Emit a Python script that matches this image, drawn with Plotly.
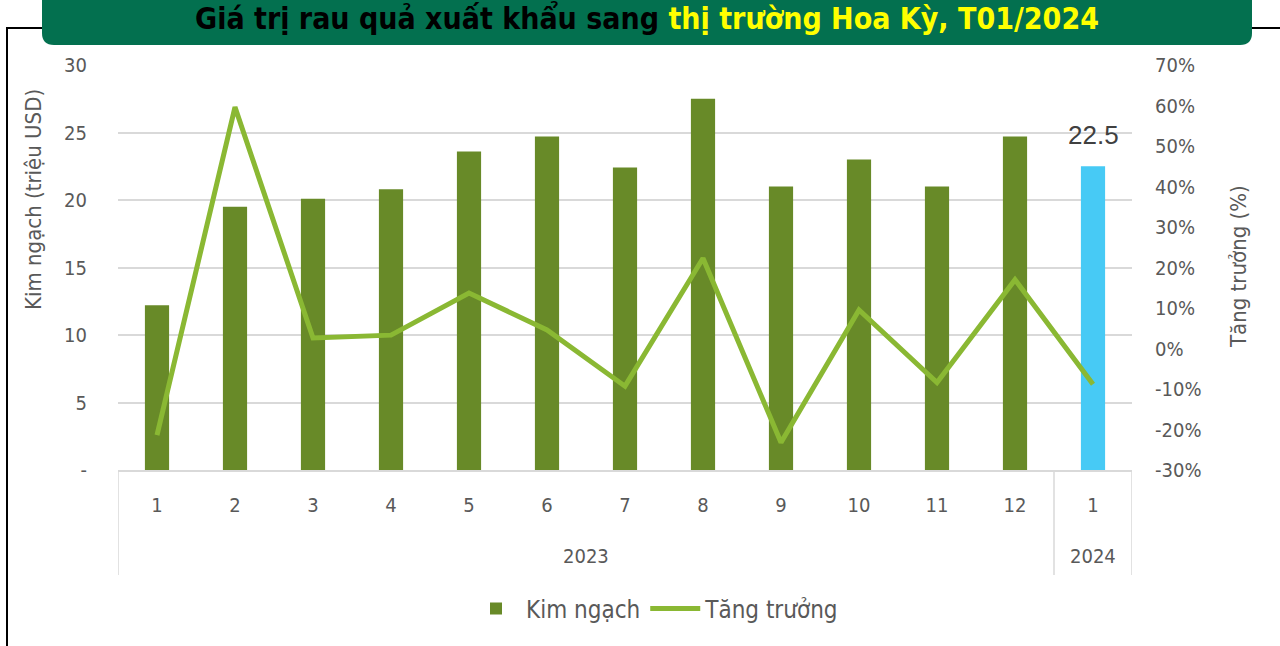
import plotly.graph_objects as go
from plotly.subplots import make_subplots

years = ["2023", "2024"]
year_span = [(0, 11), (12, 12)]
months = ["1", "2", "3", "4", "5", "6", "7", "8", "9", "10", "11", "12", "1"]
kim_ngach = [12.2, 19.5, 20.1, 20.8, 23.6, 24.7, 22.4, 27.5, 21.0, 23.0, 21.0, 24.7, 22.5]
tang_truong = [-21.4, 59.6, 2.6, 3.3, 13.7, 4.6, -9.3, 22.3, -23.2, 9.5, -8.4, 17.0, -8.8]
bar_colors = ["#688A28"] * 12 + ["#47CAF5"]
left_ticks = [0, 5, 10, 15, 20, 25, 30]
left_labels = ["-", "5", "10", "15", "20", "25", "30"]
right_ticks = [-30, -20, -10, 0, 10, 20, 30, 40, 50, 60, 70]
right_labels = [f"{v}%" for v in right_ticks]

FONT = "Liberation Sans Narrow, Arial Narrow, DejaVu Sans Condensed, sans-serif"
GRAY = "#595959"

xpos = list(range(len(months)))

fig = make_subplots(specs=[[{"secondary_y": True}]])
fig.add_trace(go.Bar(
    x=xpos, y=kim_ngach, name="Kim ngạch",
    marker=dict(color=bar_colors, line=dict(width=0)),
), secondary_y=False)
fig.add_trace(go.Scatter(
    x=xpos, y=tang_truong, name="Tăng trưởng", mode="lines",
    line=dict(color="#8AB833", width=5),
), secondary_y=True)

W, H = 1280, 646
L, R, T, B = 118, 1132, 65, 470
pw, ph = R - L, B - T

def px(x):
    return (x - L) / pw

def py(y):
    return (B - y) / ph

# outer frame
fig.add_shape(type="rect", xref="paper", yref="paper",
              x0=px(7), x1=px(1300), y0=py(28), y1=py(700),
              line=dict(color="#000000", width=2), fillcolor="rgba(0,0,0,0)", layer="below")

# rounded banner
x0, x1, y0, y1 = 42, 1252, -20, 45
r = 12
path = (f"M {px(x0)},{py(y0)} L {px(x1)},{py(y0)} L {px(x1)},{py(y1 - r)} "
        f"Q {px(x1)},{py(y1)} {px(x1 - r)},{py(y1)} L {px(x0 + r)},{py(y1)} "
        f"Q {px(x0)},{py(y1)} {px(x0)},{py(y1 - r)} Z")
fig.add_shape(type="path", xref="paper", yref="paper", path=path,
              fillcolor="#03704F", line=dict(width=0), layer="above")

fig.add_annotation(
    xref="paper", yref="paper", x=px(647), y=py(19), xanchor="center", yanchor="middle",
    text="<b>Giá trị rau quả xuất khẩu sang <span style='color:#FFFF00'>thị trường Hoa Kỳ, T01/2024</span></b>",
    showarrow=False, font=dict(family=FONT, size=30, color="#000000"),
)

# data label on last bar
fig.add_annotation(
    xref="x", yref="y", x=xpos[-1], y=kim_ngach[-1], yanchor="bottom", yshift=14,
    text=f"{kim_ngach[-1]}", showarrow=False,
    font=dict(family="Liberation Sans, Arial, sans-serif", size=26, color="#404040"),
)

# group dividers and year labels
for (a, b), yr in zip(year_span, years):
    fig.add_annotation(xref="x", yref="paper", x=(a + b) / 2, y=py(556), yanchor="middle",
                       text=yr, showarrow=False, font=dict(family=FONT, size=20, color=GRAY))
for xd in [-0.5, 11.5, 12.5]:
    fig.add_shape(type="line", xref="x", yref="paper", x0=xd, x1=xd, y0=0, y1=py(575),
                  line=dict(color="#D9D9D9", width=1.5))

# axis titles
fig.add_annotation(xref="paper", yref="paper", x=px(33), y=py(200), textangle=-90,
                   text="Kim ngạch (triệu USD)", showarrow=False,
                   xanchor="center", yanchor="middle",
                   font=dict(family=FONT, size=22, color=GRAY))
fig.add_annotation(xref="paper", yref="paper", x=px(1238), y=py(267), textangle=-90,
                   text="Tăng trưởng (%)", showarrow=False,
                   xanchor="center", yanchor="middle",
                   font=dict(family=FONT, size=22, color=GRAY))

fig.update_layout(
    width=W, height=H,
    margin=dict(l=L, r=W - R, t=T, b=H - B, autoexpand=False),
    paper_bgcolor="white", plot_bgcolor="white",
    bargap=0.69,
    font=dict(family=FONT, size=20, color=GRAY),
    legend=dict(orientation="h", x=px(655), xanchor="center", y=py(609), yanchor="middle",
                font=dict(family=FONT, size=24, color=GRAY), traceorder="normal",
                itemwidth=50),
    showlegend=True,
)
fig.update_xaxes(domain=[0, 1], range=[-0.5, 12.5], tickvals=xpos, ticktext=months,
                 automargin=False,
                 tickfont=dict(size=20, color=GRAY), showline=True, linecolor="#D9D9D9",
                 linewidth=1.5, showgrid=False, zeroline=False, ticks="", ticklabelstandoff=16)
fig.update_yaxes(range=[0, 30], tickvals=left_ticks, ticktext=left_labels, automargin=False,
                 showgrid=True, gridcolor="#D9D9D9", gridwidth=1.5, zeroline=False,
                 tickfont=dict(size=20, color=GRAY), ticks="", ticklabelstandoff=30,
                 secondary_y=False)
fig.update_yaxes(range=[-30, 70], tickvals=right_ticks, ticktext=right_labels, automargin=False,
                 showgrid=False, zeroline=False, ticks="", ticklabelstandoff=22,
                 tickfont=dict(size=20, color=GRAY),
                 secondary_y=True)

fig.write_html("out.html", config={"displayModeBar": False},
               post_script="document.body.style.margin='0';")
